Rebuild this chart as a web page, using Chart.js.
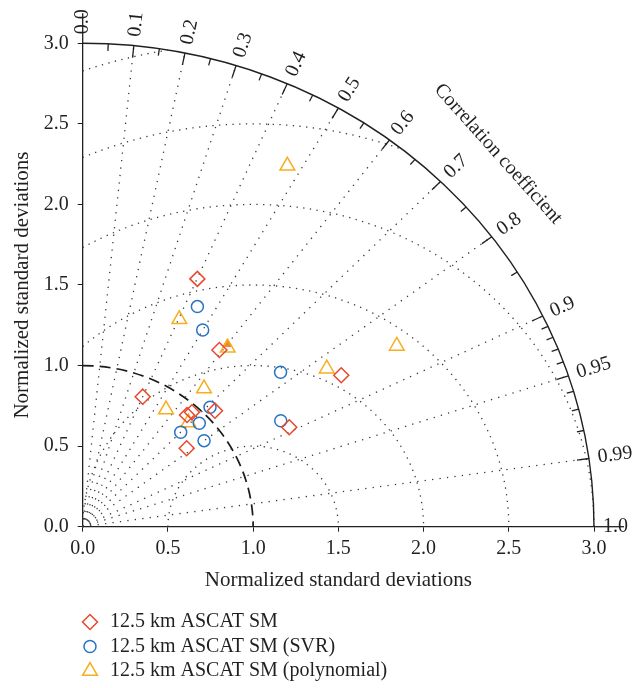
<!DOCTYPE html>
<html>
<head>
<meta charset="utf-8">
<script src="https://cdn.jsdelivr.net/npm/chart.js@4.4.0/dist/chart.umd.min.js"></script>
<style>
html,body{margin:0;padding:0;background:#fff;}
canvas{display:block;}
</style>
</head>
<body>
<canvas id="taylor" width="633" height="688"></canvas>
<script>
const serieLabels = ["12.5 km ASCAT SM", "12.5 km ASCAT SM (SVR)", "12.5 km ASCAT SM (polynomial)"]

const ascatX = [0.673, 0.802, 1.517, 0.352, 0.776, 0.612, 0.641, 1.212, 0.610]
const ascatY = [1.538, 1.097, 0.940, 0.807, 0.720, 0.693, 0.710, 0.617, 0.487]

const svrX = [0.673, 0.704, 1.161, 0.747, 0.684, 1.162, 0.575, 0.712]
const svrY = [1.366, 1.221, 0.959, 0.741, 0.642, 0.658, 0.586, 0.534]

const polyX = [1.201, 0.567, 0.851, 1.843, 1.432, 0.712, 0.489, 0.620]
const polyY = [2.240, 1.287, 1.110, 1.122, 0.981, 0.857, 0.727, 0.646]

const extraX = [0.849]
const extraY = [1.134]

const stdMax = 3
const stdRef = 1
const rmsdRadios = [0.5, 1, 1.5, 2, 2.5, 3]
const corrLines = [0.1, 0.2, 0.3, 0.4, 0.5, 0.6, 0.7, 0.8, 0.9, 0.95, 0.99]
const corrMajor = [0.1, 0.2, 0.3, 0.4, 0.5, 0.6, 0.7, 0.8, 0.9, 0.95, 0.99]
const corrMinor = [0.05, 0.15, 0.25, 0.35, 0.45, 0.55, 0.65, 0.75, 0.85, 0.91, 0.92, 0.93, 0.94, 0.96, 0.97, 0.98]
const corrTicks = [0, 0.1, 0.2, 0.3, 0.4, 0.5, 0.6, 0.7, 0.8, 0.9, 0.95, 0.99, 1]
const corrTickLabels = ["0.0", "0.1", "0.2", "0.3", "0.4", "0.5", "0.6", "0.7", "0.8", "0.9", "0.95", "0.99", "1.0"]

const rojo = "#e9482e"
const azul = "#2874c4"
const naranja = "#f7ae1f"
const texto = "#231f20"
const fuente = '"Liberation Serif", "Times New Roman", serif'

const puntos = (xs, ys) => xs.map((v, i) => ({x: v, y: ys[i]}))

const ctx = document.getElementById('taylor')

const dibujaMarca = (c, estilo, x, y, r) => {
    c.beginPath()
    if (estilo == 'rectRot') {
        c.moveTo(x, y - r); c.lineTo(x + r, y); c.lineTo(x, y + r); c.lineTo(x - r, y); c.closePath()
    } else if (estilo == 'circle') {
        c.arc(x, y, r, 0, Math.PI * 2)
    } else {
        c.moveTo(x, y - r)
        c.lineTo(x + r * Math.sin(Math.PI * 2 / 3), y + r / 2)
        c.lineTo(x - r * Math.sin(Math.PI * 2 / 3), y + r / 2)
        c.closePath()
    }
    c.stroke()
}

const taylorPlugin = {
    id: 'taylor',
    beforeDatasetsDraw(chart) {
        const c = chart.ctx
        const sx = chart.scales.x, sy = chart.scales.y
        const px = v => sx.getPixelForValue(v)
        const py = v => sy.getPixelForValue(v)
        const ox = px(0), oy = py(0)
        const kx = px(1) - ox, ky = oy - py(1)
        c.save()

        // lineas de correlacion
        c.strokeStyle = '#3a3a3a'
        c.lineWidth = 1.3
        c.setLineDash([1.3, 6.2])
        corrLines.forEach(r => {
            const s = Math.sqrt(1 - r * r)
            c.beginPath()
            c.moveTo(ox, oy)
            c.lineTo(px(stdMax * r), py(stdMax * s))
            c.stroke()
        })

        // circulos RMSD
        c.setLineDash([1.3, 5.4])
        rmsdRadios.forEach(r => {
            const a0 = Math.acos(Math.min(1, (stdMax * stdMax - stdRef * stdRef - r * r) / (2 * stdRef * r)))
            const a1 = Math.acos(Math.max(-1, -stdRef / r))
            if (a1 <= a0) return
            c.beginPath()
            c.ellipse(px(stdRef), oy, r * kx, r * ky, 0, -a1, -a0)
            c.stroke()
        })

        // desviacion de referencia
        c.strokeStyle = '#1a1a1a'
        c.lineWidth = 1.7
        c.setLineDash([11, 6])
        c.beginPath()
        c.ellipse(ox, oy, stdRef * kx, stdRef * ky, 0, -Math.PI / 2, 0)
        c.stroke()

        // arco exterior
        c.setLineDash([])
        c.strokeStyle = texto
        c.lineWidth = 1.4
        c.beginPath()
        c.ellipse(ox, oy, stdMax * kx, stdMax * ky, 0, -Math.PI / 2, 0)
        c.stroke()

        const marca = (r, largo) => {
            const s = Math.sqrt(1 - r * r)
            const x1 = px(stdMax * r), y1 = py(stdMax * s)
            const d = Math.hypot(x1 - ox, y1 - oy)
            const ux = (x1 - ox) / d, uy = (y1 - oy) / d
            c.beginPath()
            c.moveTo(x1, y1)
            c.lineTo(x1 + ux * largo, y1 + uy * largo)
            c.stroke()
        }
        c.lineWidth = 1.3
        corrMajor.forEach(r => marca(r, -12))
        corrMinor.forEach(r => marca(r, -7))
        marca(0, 30)
        marca(1, 30)
        c.restore()
    },
    afterDraw(chart) {
        const c = chart.ctx
        const sx = chart.scales.x, sy = chart.scales.y
        const px = v => sx.getPixelForValue(v)
        const py = v => sy.getPixelForValue(v)
        const ox = px(0), oy = py(0)
        c.save()
        c.fillStyle = texto
        c.font = '20px ' + fuente
        c.textBaseline = 'middle'
        c.textAlign = 'left'
        corrTicks.forEach((r, i) => {
            const s = Math.sqrt(1 - r * r)
            const x1 = px(stdMax * r), y1 = py(stdMax * s)
            const d = Math.hypot(x1 - ox, y1 - oy)
            const ux = (x1 - ox) / d, uy = (y1 - oy) / d
            c.save()
            c.translate(x1 + ux * 9, y1 + uy * 9)
            c.rotate(Math.atan2(uy, ux))
            c.fillText(corrTickLabels[i], 0, 0)
            c.restore()
        })

        // titulo del eje de correlacion
        const ang = 43.5 * Math.PI / 180
        const tx = px(3.36 * Math.cos(ang)), ty = py(3.36 * Math.sin(ang))
        const d = Math.hypot(tx - ox, ty - oy)
        const ux = (tx - ox) / d, uy = (ty - oy) / d
        c.save()
        c.translate(tx, ty)
        c.rotate(Math.atan2(ux, -uy))
        c.textAlign = 'center'
        c.fillText('Correlation coefficient', 0, 0)
        c.restore()

        // leyenda
        const sets = chart.data.datasets.filter(ds => ds.label)
        sets.forEach((ds, i) => {
            const yy = 622 + i * 24.5
            c.strokeStyle = ds.borderColor
            c.lineWidth = 1.5
            dibujaMarca(c, ds.pointStyle, 90, yy, ds.pointStyle == 'circle' ? 6 : (ds.pointStyle == 'triangle' ? 8.5 : 7.5))
            c.fillStyle = texto
            c.textAlign = 'left'
            c.fillText(ds.label, 110, yy)
        })
        c.restore()
    }
}

const grafico = new Chart(ctx, {
    type: 'scatter',
    data: {
        datasets: [
            {label: serieLabels[0], data: puntos(ascatX, ascatY), pointStyle: 'rectRot', pointRadius: 7.5, borderColor: rojo, backgroundColor: 'rgba(0,0,0,0)', borderWidth: 1.5},
            {label: serieLabels[1], data: puntos(svrX, svrY), pointStyle: 'circle', pointRadius: 6, borderColor: azul, backgroundColor: 'rgba(0,0,0,0)', borderWidth: 1.5},
            {label: serieLabels[2], data: puntos(polyX, polyY), pointStyle: 'triangle', pointRadius: 8.5, borderColor: naranja, backgroundColor: 'rgba(0,0,0,0)', borderWidth: 1.5},
            {label: '', data: puntos(extraX, extraY), pointStyle: 'triangle', pointRadius: 5, borderColor: '#f08a2c', backgroundColor: '#f08a2c', borderWidth: 1}
        ]
    },
    options: {
        responsive: false,
        animation: false,
        devicePixelRatio: 1,
        events: [],
        layout: {padding: {left: 0, top: 43.3, right: 39, bottom: 91.3}},
        plugins: {legend: {display: false}, tooltip: {enabled: false}},
        scales: {
            x: {
                type: 'linear', min: 0, max: stdMax,
                ticks: {stepSize: 0.5, callback: v => v.toFixed(1), color: texto, font: {family: fuente, size: 20}, padding: 5, maxRotation: 0},
                grid: {drawOnChartArea: false, tickLength: 5, color: texto},
                border: {color: texto, width: 1.3},
                title: {display: true, text: 'Normalized standard deviations', color: texto, font: {family: fuente, size: 21}, padding: {top: 0, bottom: 4}},
                afterFit: s => { s.height = 70 }
            },
            y: {
                type: 'linear', min: 0, max: stdMax,
                ticks: {stepSize: 0.5, callback: v => v.toFixed(1), color: texto, font: {family: fuente, size: 20}, padding: 9},
                grid: {drawOnChartArea: false, tickLength: 5, color: texto},
                border: {color: texto, width: 1.3},
                title: {display: true, text: 'Normalized standard deviations', color: texto, font: {family: fuente, size: 21}, padding: {top: 10, bottom: 0}},
                afterFit: s => { s.width = 82.7 }
            }
        }
    },
    plugins: [taylorPlugin]
})
</script>
</body>
</html>
